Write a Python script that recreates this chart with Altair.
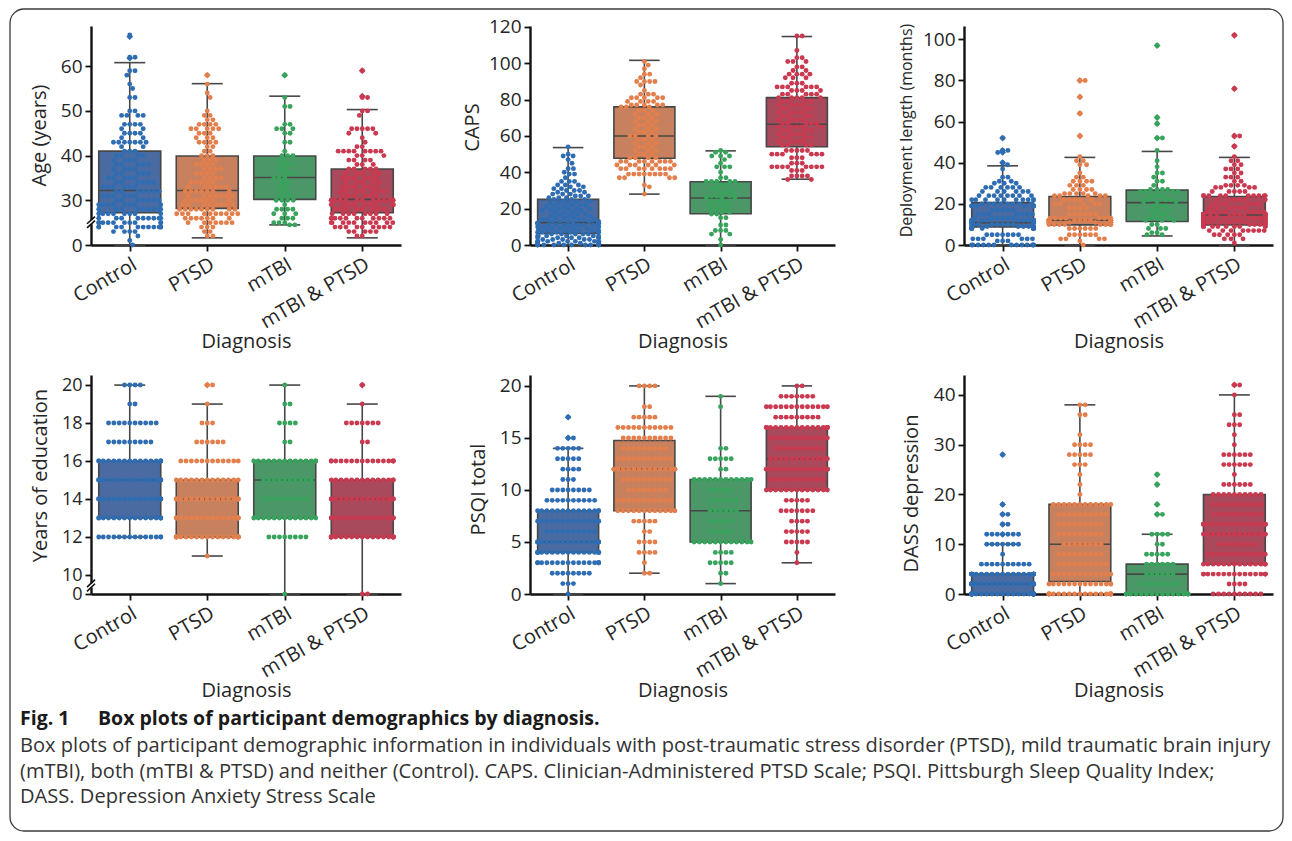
import json
import math
import numpy as np
import pandas as pd
import altair as alt

GROUPS = ["Control", "PTSD", "mTBI", "mTBI & PTSD"]
POINT_COLORS = ["#2f6db3", "#e27f4d", "#38a35c", "#c93a50"]
BOX_COLORS = ["#4a6ba2", "#c8815e", "#4c9768", "#a9495c"]
LINE_GRAY = "#474747"
AXIS_COLOR = "#111111"
TEXT_COLOR = "#262626"

# ---------------- Age (years) ----------------
AGE_CONTROL_VALUES = [67, 62, 59, 58, 56, 55, 53, 50, 49, 47, 46, 45, 44, 43, 42, 41, 40, 39, 38, 37, 36, 35, 34, 33, 32, 31, 30, 29, 28, 27, 26, 25, 24, 23, 22, 21, 0]
AGE_CONTROL_COUNTS = [1, 2, 2, 1, 1, 1, 2, 2, 4, 4, 2, 4, 2, 7, 2, 3, 4, 4, 5, 4, 5, 5, 6, 6, 7, 6, 7, 8, 9, 8, 9, 10, 11, 4, 1, 1, 1]
AGE_PTSD_VALUES = [58, 56, 54, 53, 50, 49, 48, 47, 46, 45, 44, 43, 42, 41, 40, 39, 38, 37, 36, 35, 34, 33, 32, 31, 30, 29, 28, 27, 26, 25, 24, 23, 22]
AGE_PTSD_COUNTS = [1, 1, 1, 1, 1, 2, 2, 4, 5, 3, 3, 4, 2, 2, 3, 3, 4, 4, 4, 4, 5, 6, 7, 7, 7, 8, 9, 10, 7, 7, 3, 2, 2]
AGE_MTBI_VALUES = [58, 53, 51, 47, 46, 45, 43, 41, 40, 39, 38, 37, 36, 35, 34, 33, 32, 31, 30, 29, 28, 27, 26, 25, 24.5]
AGE_MTBI_COUNTS = [1, 1, 2, 2, 3, 2, 2, 1, 3, 2, 3, 2, 3, 3, 2, 2, 2, 3, 4, 1, 4, 3, 3, 3, 2]
AGE_BOTH_VALUES = [59, 53, 50, 49, 46, 45, 44, 43, 42, 41, 40, 39, 38, 37, 36, 35, 34, 33, 32, 31, 30, 29, 28, 27, 26, 25, 24, 23, 22]
AGE_BOTH_COUNTS = [1, 2, 2, 1, 5, 2, 1, 1, 2, 8, 3, 4, 3, 5, 5, 6, 5, 6, 7, 6, 12, 9, 8, 8, 10, 10, 9, 5, 2]
AGE_Q1 = [27.2, 28.2, 30.2, 27.2]
AGE_MEDIAN = [32.2, 32.2, 35.1, 30.2]
AGE_Q3 = [41.0, 39.9, 39.9, 37.0]
AGE_LOW = [0, 21.6, 24.5, 21.6]
AGE_HIGH = [60.8, 56.1, 53.3, 50.3]
AGE_OUTLIERS = [[66.6, 61.8], [58], [58], [59, 53.3]]

# ---------------- CAPS ----------------
CAPS_CONTROL_VALUES = [54, 50, 49, 47, 45, 42, 40, 39, 37, 35, 33, 32, 31, 30, 29, 28, 27, 26, 25, 24, 23, 22, 21, 20, 19, 18, 17, 16, 15, 14, 13, 12, 11, 10, 9, 8, 7, 6, 5, 4, 3, 2, 1, 0]
CAPS_CONTROL_COUNTS = [1, 1, 2, 1, 1, 2, 1, 2, 1, 3, 3, 2, 2, 3, 2, 3, 3, 3, 3, 3, 3, 3, 3, 4, 3, 3, 3, 3, 3, 5, 5, 7, 6, 6, 5, 5, 5, 5, 6, 6, 5, 8, 4, 10]
CAPS_PTSD_VALUES = [101, 99, 97, 94, 92, 90, 88, 85, 83, 81, 79, 77, 76, 74, 72, 70, 68, 66, 64, 62, 60, 58, 56, 54, 52, 50, 48, 46, 44, 42, 39, 37, 33, 32, 28]
CAPS_PTSD_COUNTS = [1, 1, 1, 2, 1, 4, 1, 1, 3, 5, 4, 5, 3, 3, 3, 3, 3, 3, 3, 3, 4, 3, 3, 3, 3, 3, 4, 8, 6, 8, 8, 4, 1, 1, 1]
CAPS_MTBI_VALUES = [52, 51, 49, 47, 45, 43, 40, 37, 35, 33, 31, 29, 27, 26, 24, 22, 20, 18, 17, 15, 11, 8, 6, 3, 0]
CAPS_MTBI_COUNTS = [1, 2, 3, 1, 1, 3, 1, 2, 5, 3, 3, 3, 3, 3, 3, 3, 3, 2, 2, 2, 2, 3, 2, 1, 1]
CAPS_BOTH_VALUES = [115, 107, 103, 101, 98, 96, 94, 92, 89, 87, 85, 83, 81, 79, 77, 75, 73, 71, 69, 67, 65, 63, 61, 59, 57, 55, 52, 50, 48, 45, 43, 41, 38, 36]
CAPS_BOTH_COUNTS = [2, 1, 2, 3, 2, 2, 4, 3, 3, 6, 4, 5, 5, 4, 4, 4, 4, 4, 4, 5, 5, 4, 4, 4, 4, 4, 5, 6, 3, 3, 8, 3, 4, 2]
CAPS_Q1 = [6.4, 47.7, 17.2, 54.1]
CAPS_MEDIAN = [12.3, 60.0, 25.9, 66.4]
CAPS_Q3 = [25.1, 76.0, 34.8, 81.1]
CAPS_LOW = [0, 28, 0, 36.2]
CAPS_HIGH = [53.6, 101.6, 51.8, 114.7]
CAPS_OUTLIERS = [[], [], [], []]

# ---------------- Deployment length (months) ----------------
DEP_CONTROL_VALUES = [52, 46, 45, 40, 39, 37, 33, 31, 30, 28, 26, 24, 22, 20, 19, 17, 15, 13, 12, 11, 10, 9, 8, 5, 3, 2, 0]
DEP_CONTROL_COUNTS = [1, 2, 1, 1, 1, 1, 2, 2, 3, 6, 6, 8, 10, 8, 8, 5, 7, 6, 10, 10, 8, 8, 10, 7, 6, 3, 13]
DEP_PTSD_VALUES = [80, 72, 64, 53, 43, 41, 39, 35, 33, 31, 29, 27, 25, 24, 22, 20, 18, 15, 13, 12, 11, 10, 8, 5, 3, 2, 0]
DEP_PTSD_COUNTS = [2, 1, 1, 1, 1, 2, 2, 1, 2, 4, 3, 4, 5, 5, 5, 5, 4, 6, 8, 12, 10, 8, 6, 6, 4, 1, 1]
DEP_MTBI_VALUES = [97, 62, 59, 52, 46, 41, 38, 35, 33, 31, 29, 27, 26, 24, 22, 21, 19, 17, 15, 13, 12, 10, 8, 6, 5]
DEP_MTBI_COUNTS = [1, 1, 1, 2, 1, 1, 1, 2, 1, 2, 1, 4, 4, 3, 3, 3, 3, 3, 3, 3, 3, 2, 3, 2, 2]
DEP_BOTH_VALUES = [102, 76, 53, 48, 43, 41, 39, 37, 35, 33, 31, 29, 28, 26, 24, 22, 20, 18, 16, 15, 14, 13, 12, 11, 10, 9, 7, 5, 3, 1]
DEP_BOTH_COUNTS = [1, 1, 2, 1, 1, 2, 2, 3, 2, 3, 2, 4, 4, 5, 10, 6, 6, 6, 8, 10, 10, 8, 9, 8, 8, 10, 8, 5, 3, 1]
DEP_Q1 = [8.8, 9.8, 11.4, 9.8]
DEP_MEDIAN = [10.9, 12.0, 20.6, 14.6]
DEP_Q3 = [20.6, 23.6, 26.7, 23.6]
DEP_LOW = [0, 0, 4.4, 0]
DEP_HIGH = [38.5, 42.6, 45.5, 42.6]
DEP_OUTLIERS = [[52, 46, 45, 40], [80, 72, 64, 53], [97, 62, 59, 52], [102, 76, 53, 48]]

# ---------------- Years of education ----------------
EDU_VALUES = [0, 11, 12, 13, 14, 15, 16, 17, 18, 19, 20]
EDU_CONTROL_COUNTS = [0, 0, 14, 16, 18, 18, 16, 9, 10, 2, 4]
EDU_PTSD_COUNTS = [0, 1, 20, 16, 16, 13, 12, 6, 3, 1, 2]
EDU_MTBI_COUNTS = [1, 0, 8, 13, 9, 10, 14, 2, 4, 2, 1]
EDU_BOTH_COUNTS = [2, 0, 22, 16, 16, 14, 16, 2, 7, 1, 1]
EDU_Q1 = [13, 12, 13, 12]
EDU_MEDIAN = [15, 14, 15, 14]
EDU_Q3 = [16, 15, 16, 15]
EDU_LOW = [12, 11, 0, 0]
EDU_HIGH = [20, 19, 20, 19]
EDU_OUTLIERS = [[], [20], [], [20]]

# ---------------- PSQI total ----------------
PSQI_VALUES = list(range(0, 21))
PSQI_CONTROL_COUNTS = [1, 3, 8, 16, 17, 17, 10, 14, 14, 10, 8, 3, 4, 5, 5, 2, 0, 1, 0, 0, 0]
PSQI_PTSD_COUNTS = [0, 0, 2, 1, 4, 4, 2, 5, 12, 11, 8, 10, 15, 11, 9, 10, 11, 5, 2, 0, 4]
PSQI_MTBI_COUNTS = [0, 1, 2, 5, 4, 12, 5, 5, 6, 6, 5, 12, 2, 5, 2, 0, 0, 0, 1, 1, 0]
PSQI_BOTH_COUNTS = [0, 0, 0, 1, 1, 5, 5, 4, 7, 5, 13, 11, 16, 12, 10, 12, 16, 9, 13, 7, 2]
PSQI_Q1 = [4, 8, 5, 10]
PSQI_MEDIAN = [5, 12, 8, 13]
PSQI_Q3 = [8, 14.75, 11, 16]
PSQI_LOW = [0, 2, 1, 3]
PSQI_HIGH = [14, 20, 19, 20]
PSQI_OUTLIERS = [[15, 17], [], [], []]

# ---------------- DASS depression ----------------
DASS_VALUES = list(range(0, 43, 2))
DASS_CONTROL_COUNTS = [40, 32, 28, 10, 1, 7, 7, 2, 2, 1, 0, 0, 0, 0, 1, 0, 0, 0, 0, 0, 0, 0]
DASS_PTSD_COUNTS = [20, 14, 12, 10, 9, 8, 9, 9, 10, 12, 1, 1, 1, 3, 5, 4, 1, 0, 2, 2, 0, 0]
DASS_MTBI_COUNTS = [16, 8, 6, 6, 5, 2, 4, 0, 2, 1, 0, 1, 1, 0, 0, 0, 0, 0, 0, 0, 0, 0]
DASS_BOTH_COUNTS = [10, 4, 16, 14, 12, 8, 14, 18, 10, 10, 10, 6, 1, 6, 6, 1, 1, 3, 2, 0, 1, 2]
DASS_Q1 = [0, 2.5, 0, 6]
DASS_MEDIAN = [2, 10, 4, 12]
DASS_Q3 = [4, 18, 6, 20]
DASS_LOW = [0, 0, 0, 0]
DASS_HIGH = [10, 38, 12, 40]
DASS_OUTLIERS = [[12, 14, 16, 18, 28], [], [16, 18, 22, 24], [42]]

FIG_LABEL = "Fig. 1"
FIG_TITLE = "Box plots of participant demographics by diagnosis."
CAPTION_LINES = [
    "Box plots of participant demographic information in individuals with post-traumatic stress disorder (PTSD), mild traumatic brain injury",
    "(mTBI), both (mTBI & PTSD) and neither (Control). CAPS. Clinician-Administered PTSD Scale; PSQI. Pittsburgh Sleep Quality Index;",
    "DASS. Depression Anxiety Stress Scale",
]

# ---------------- layout constants ----------------
H = 219
DOT_DIAM = 5.3
DOT_SIZE = 24
BOX_W = 0.8
CAP_W = 0.4


def expand(values, counts):
    assert len(values) == len(counts), (len(values), len(counts))
    out = []
    for v, c in zip(values, counts):
        out += [v] * c
    return out


def swarm(ypx, diam, half):
    n = len(ypx)
    order = sorted(range(n), key=lambda i: ypx[i])
    px, py = [], []
    out = [0.0] * n
    d2 = diam * diam - 1e-6
    for i in order:
        y = ypx[i]
        neigh = [(a, b) for a, b in zip(px, py) if abs(b - y) < diam]
        cands = [0.0]
        for a, b in neigh:
            off = math.sqrt(max(diam * diam - (b - y) ** 2, 0.0))
            cands.append(a + off)
            cands.append(a - off)
        cands.sort(key=abs)
        chosen = cands[-1]
        for c in cands:
            if all((c - a) ** 2 + (b - y) ** 2 >= d2 for a, b in neigh):
                chosen = c
                break
        px.append(chosen)
        py.append(y)
        out[i] = chosen
    return [max(-half, min(half, v)) for v in out]


def make_panel(width, groups_data, q1, med, q3, lo, hi, outliers, domain, rng,
               ticks, title, title_x, title_y, title_size=20, breaks=None, extra=None,
               label_size=19):
    band = width / 4.0
    xs = alt.Scale(domain=[-0.5, 3.5], nice=False, zero=False)
    ys = alt.Scale(domain=domain, range=rng, nice=False, zero=False)
    x_axis = alt.Axis(
        values=[0, 1, 2, 3],
        labelExpr=json.dumps(GROUPS) + "[datum.value]",
        labelAngle=330, labelAlign="right", labelBaseline="top",
        labelFontSize=20, labelPadding=3, labelOverlap=False, labelFlush=False,
        title="Diagnosis", titleFontSize=20, titleY=102, titleBaseline="alphabetic",
        grid=False,
    )
    y_axis = alt.Axis(
        values=ticks, title=title, titleFontSize=title_size,
        titleX=title_x, titleY=title_y, grid=False,
        labelFontSize=label_size, labelPadding=3, format="d",
        labelOverlap=False, labelFlush=False,
    )

    rows = []
    for gi, data in enumerate(groups_data):
        ypx = list(np.interp(data, domain, rng))
        dx = swarm(ypx, DOT_DIAM, BOX_W * band / 2.0)
        for v, d in zip(data, dx):
            rows.append({"x": gi + d / band, "v": v, "c": POINT_COLORS[gi]})
    pts = pd.DataFrame(rows)

    box = pd.DataFrame({
        "idx": list(range(4)),
        "xl": [i - BOX_W / 2 for i in range(4)],
        "xr": [i + BOX_W / 2 for i in range(4)],
        "cl": [i - CAP_W / 2 for i in range(4)],
        "cr": [i + CAP_W / 2 for i in range(4)],
        "q1": q1, "med": med, "q3": q3, "lo": lo, "hi": hi,
        "fill": BOX_COLORS,
    })
    out_rows = []
    for gi, lst in enumerate(outliers):
        for v in lst:
            out_rows.append({"idx": gi, "v": v, "c": POINT_COLORS[gi]})
    outl = pd.DataFrame(out_rows if out_rows else [{"idx": 0, "v": None, "c": POINT_COLORS[0]}])

    bb = alt.Chart(box)
    X = lambda f: alt.X(f, type="quantitative", scale=xs, axis=x_axis)
    Y = lambda f: alt.Y(f, type="quantitative", scale=ys, axis=y_axis)

    whisk_hi = bb.mark_rule(color=LINE_GRAY, strokeWidth=1.6).encode(x=X("idx"), y=Y("q3"), y2="hi")
    whisk_lo = bb.mark_rule(color=LINE_GRAY, strokeWidth=1.6).encode(x=X("idx"), y=Y("lo"), y2="q1")
    cap_hi = bb.mark_rule(color=LINE_GRAY, strokeWidth=1.6).encode(x=X("cl"), x2="cr", y=Y("hi"))
    cap_lo = bb.mark_rule(color=LINE_GRAY, strokeWidth=1.6).encode(x=X("cl"), x2="cr", y=Y("lo"))
    rect = bb.mark_rect(stroke=LINE_GRAY, strokeWidth=1.6).encode(
        x=X("xl"), x2="xr", y=Y("q1"), y2="q3", fill=alt.Fill("fill:N", scale=None))
    median = bb.mark_rule(color=LINE_GRAY, strokeWidth=1.6).encode(x=X("xl"), x2="xr", y=Y("med"))
    fliers = alt.Chart(outl).mark_point(shape="diamond", filled=True, size=46, opacity=1).encode(
        x=X("idx"), y=Y("v"), color=alt.Color("c:N", scale=None))
    dots = alt.Chart(pts).mark_circle(size=DOT_SIZE, opacity=1).encode(
        x=X("x"), y=Y("v"), color=alt.Color("c:N", scale=None))

    layers = [whisk_hi, whisk_lo, cap_hi, cap_lo, rect, median, fliers, dots]
    if breaks is not None:
        center, half_units, gap_units = breaks
        bdf = pd.DataFrame({
            "a": [center - gap_units / 2 - half_units, center + gap_units / 2 - half_units],
            "b": [center - gap_units / 2 + half_units, center + gap_units / 2 + half_units],
        })
        gdf = pd.DataFrame({"a": [center - gap_units / 2], "b": [center + gap_units / 2]})
        gap = alt.Chart(gdf).mark_rule(color="white", strokeWidth=5).encode(
            x=alt.value(0), y=Y("a"), y2="b")
        slashes = alt.Chart(bdf).mark_rule(color=AXIS_COLOR, strokeWidth=1.6).encode(
            x=alt.value(-4), x2=alt.value(4), y=Y("a"), y2="b")
        layers += [gap, slashes]
    if extra:
        layers += extra
    return alt.layer(*layers).properties(width=width, height=H)


# ---------- figure frame and caption (placed relative to the first panel) ----------
cap_base = alt.Chart(pd.DataFrame({"k": [0]}))
border = cap_base.mark_rect(filled=False, stroke="#3a3a3a", strokeWidth=1.3, cornerRadius=14).encode(
    x=alt.value(-81), x2=alt.value(1192), y=alt.value(-17), y2=alt.value(805))
fig_label = cap_base.mark_text(align="left", baseline="alphabetic", font="Open Sans", fontSize=19.5,
                               fontWeight="bold", color="#1a1a1a").encode(
    x=alt.value(-71), y=alt.value(699), text=alt.value(FIG_LABEL))
fig_title = cap_base.mark_text(align="left", baseline="alphabetic", font="Open Sans", fontSize=19.5,
                               fontWeight="bold", color="#1a1a1a").encode(
    x=alt.value(7), y=alt.value(699), text=alt.value(FIG_TITLE))
cap_layers = [border, fig_label, fig_title]
for i, line in enumerate(CAPTION_LINES):
    cap_layers.append(
        cap_base.mark_text(align="left", baseline="alphabetic", font="Open Sans", fontSize=20.1,
                           color="#333333").encode(
            x=alt.value(-71), y=alt.value(726 + 25.5 * i), text=alt.value(line)))

W1, W2, W3 = 310, 305, 309

p_age = make_panel(
    W1,
    [expand(AGE_CONTROL_VALUES, AGE_CONTROL_COUNTS), expand(AGE_PTSD_VALUES, AGE_PTSD_COUNTS),
     expand(AGE_MTBI_VALUES, AGE_MTBI_COUNTS), expand(AGE_BOTH_VALUES, AGE_BOTH_COUNTS)],
    AGE_Q1, AGE_MEDIAN, AGE_Q3, AGE_LOW, AGE_HIGH, AGE_OUTLIERS,
    [0, 20, 69], [H, H, 0], [0, 30, 40, 50, 60], "Age (years)", -42, 109,
    breaks=(25.1, 0.8, 0.9), extra=cap_layers,
)
p_caps = make_panel(
    W2,
    [expand(CAPS_CONTROL_VALUES, CAPS_CONTROL_COUNTS), expand(CAPS_PTSD_VALUES, CAPS_PTSD_COUNTS),
     expand(CAPS_MTBI_VALUES, CAPS_MTBI_COUNTS), expand(CAPS_BOTH_VALUES, CAPS_BOTH_COUNTS)],
    CAPS_Q1, CAPS_MEDIAN, CAPS_Q3, CAPS_LOW, CAPS_HIGH, CAPS_OUTLIERS,
    [0, 120.5], [H, 0], [0, 20, 40, 60, 80, 100, 120], "CAPS", -48, 101,
)
p_dep = make_panel(
    W3,
    [expand(DEP_CONTROL_VALUES, DEP_CONTROL_COUNTS), expand(DEP_PTSD_VALUES, DEP_PTSD_COUNTS),
     expand(DEP_MTBI_VALUES, DEP_MTBI_COUNTS), expand(DEP_BOTH_VALUES, DEP_BOTH_COUNTS)],
    DEP_Q1, DEP_MEDIAN, DEP_Q3, DEP_LOW, DEP_HIGH, DEP_OUTLIERS,
    [0, 106.5], [H, 0], [0, 20, 40, 60, 80, 100], "Deployment length (months)", -50, 104,
    title_size=16,
)
p_edu = make_panel(
    W1,
    [expand(EDU_VALUES, EDU_CONTROL_COUNTS), expand(EDU_VALUES, EDU_PTSD_COUNTS),
     expand(EDU_VALUES, EDU_MTBI_COUNTS), expand(EDU_VALUES, EDU_BOTH_COUNTS)],
    EDU_Q1, EDU_MEDIAN, EDU_Q3, EDU_LOW, EDU_HIGH, EDU_OUTLIERS,
    [0, 9, 20.53], [H, H, 0], [0, 10, 12, 14, 16, 18, 20], "Years of education", -41, 100,
    breaks=(9.45, 0.2, 0.22), label_size=18,
)
p_psqi = make_panel(
    W2,
    [expand(PSQI_VALUES, PSQI_CONTROL_COUNTS), expand(PSQI_VALUES, PSQI_PTSD_COUNTS),
     expand(PSQI_VALUES, PSQI_MTBI_COUNTS), expand(PSQI_VALUES, PSQI_BOTH_COUNTS)],
    PSQI_Q1, PSQI_MEDIAN, PSQI_Q3, PSQI_LOW, PSQI_HIGH, PSQI_OUTLIERS,
    [0, 21.05], [H, 0], [0, 5, 10, 15, 20], "PSQI total", -42, 114,
)
p_dass = make_panel(
    W3,
    [expand(DASS_VALUES, DASS_CONTROL_COUNTS), expand(DASS_VALUES, DASS_PTSD_COUNTS),
     expand(DASS_VALUES, DASS_MTBI_COUNTS), expand(DASS_VALUES, DASS_BOTH_COUNTS)],
    DASS_Q1, DASS_MEDIAN, DASS_Q3, DASS_LOW, DASS_HIGH, DASS_OUTLIERS,
    [0, 44], [H, 0], [0, 10, 20, 30, 40], "DASS depression", -43, 118,
)

chart = alt.concat(
    p_age, p_caps, p_dep, p_edu, p_psqi, p_dass,
    columns=3, spacing={"row": 130, "column": 129}, bounds="flush", align="each",
).properties(
    padding={"left": 1, "top": 0, "right": 0, "bottom": 0}
).configure_view(stroke=None).configure_axis(
    labelFont="Open Sans", titleFont="Open Sans", labelColor=TEXT_COLOR, titleColor=TEXT_COLOR,
    titleFontWeight="normal", domainColor=AXIS_COLOR, domainWidth=2.4, tickColor=AXIS_COLOR,
    tickWidth=1.8, tickSize=6,
)

chart.save("out.html", embed_options={"renderer": "svg", "actions": False})
